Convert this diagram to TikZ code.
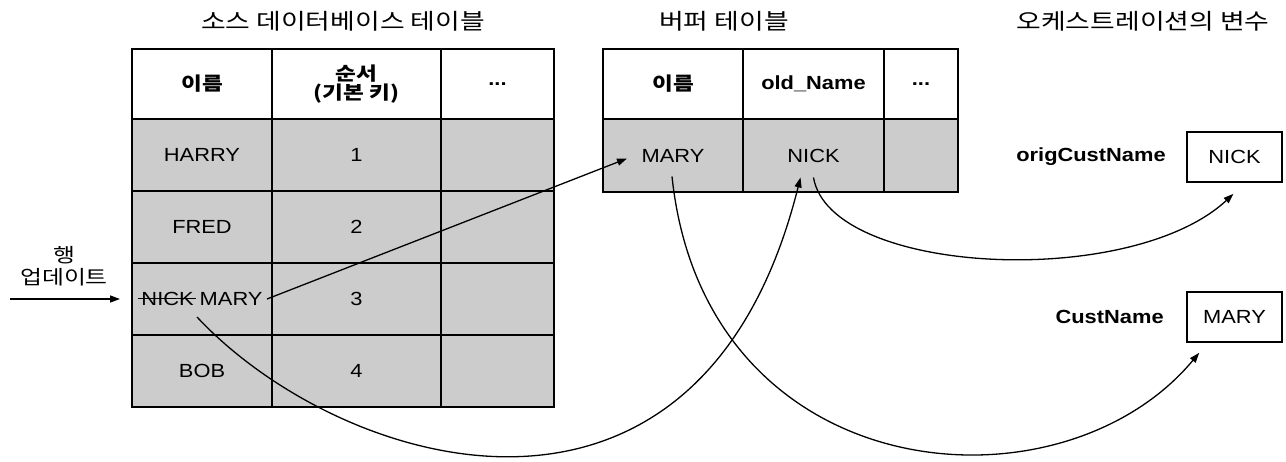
\documentclass[tikz,border=0pt]{standalone}
\usepackage{fontspec}
\setmainfont{Liberation Sans}[FakeStretch=1.15]
\newfontfamily\kr{Noto Sans CJK KR}[FakeStretch=1.22]
\usetikzlibrary{arrows.meta,positioning}
\definecolor{rowgray}{RGB}{204,204,204}
\newcommand{\strikeword}[1]{\setbox0\hbox{#1}\rlap{\kern-3pt\rule[0.34em]{\dimexpr\wd0+5pt\relax}{1.2pt}}\box0\relax}

\begin{document}
\begin{tikzpicture}[x=1pt, y=1pt,
  node distance=0pt and 0pt,
  cell/.style={draw, line width=1.6pt, fill=rowgray, minimum height=72pt,
               inner sep=0pt, outer sep=0pt, align=center, font=\fontsize{19}{22}\selectfont},
  headcell/.style={cell, fill=white, minimum height=70pt, font=\bfseries\fontsize{19}{22}\selectfont},
  krcell/.style={headcell, font=\kr\bfseries\fontsize{18.5}{19.5}\selectfont},
  title/.style={font=\kr\fontsize{22}{26}\selectfont},
  varbox/.style={draw, line width=1.6pt, fill=white, minimum width=95pt, minimum height=50pt,
                 inner sep=0pt, font=\fontsize{19}{22}\selectfont},
  varname/.style={font=\bfseries\fontsize{19}{22}\selectfont},
  arrow/.style={-{Triangle[length=10pt,width=7pt]}, line width=1.3pt}
]
\useasboundingbox (0,0) rectangle (1286,-462);

% titles
\node[title] (srctitle) at (343,-21) {소스 데이터베이스 테이블};
\node[title] (buftitle) at (724,-21) {버퍼 테이블};
\node[title] (vartitle) at (1143,-21) {오케스트레이션의 변수};

% source table
\node[krcell, minimum width=140pt, anchor=north west] (sname) at (132,-49) {이름};
\node[krcell, minimum width=169pt, right=of sname] (skey) {순서\\(기본 키)};
\node[headcell, minimum width=113pt, right=of skey] (smore) {...};
\node[cell, minimum width=140pt, below=of sname] (sname1) {HARRY};
\node[cell, minimum width=169pt, below=of skey] (skey1) {1};
\node[cell, minimum width=113pt, below=of smore] (smore1) {};
\node[cell, minimum width=140pt, below=of sname1] (sname2) {FRED};
\node[cell, minimum width=169pt, below=of skey1] (skey2) {2};
\node[cell, minimum width=113pt, below=of smore1] (smore2) {};
\node[cell, minimum width=140pt, below=of sname2] (sname3) {\strikeword{NICK} MARY};
\node[cell, minimum width=169pt, below=of skey2] (skey3) {3};
\node[cell, minimum width=113pt, below=of smore2] (smore3) {};
\node[cell, minimum width=140pt, below=of sname3] (sname4) {BOB};
\node[cell, minimum width=169pt, below=of skey3] (skey4) {4};
\node[cell, minimum width=113pt, below=of smore3] (smore4) {};

% buffer table
\node[krcell, minimum width=140pt, anchor=north west] (bname) at (603,-49) {이름};
\node[headcell, minimum width=141pt, right=of bname] (bold) {old\_Name};
\node[headcell, minimum width=74pt, right=of bold] (bmore) {...};
\node[cell, minimum width=140pt, minimum height=73pt, below=of bname] (bname1) {MARY};
\node[cell, minimum width=141pt, minimum height=73pt, below=of bold] (bold1) {NICK};
\node[cell, minimum width=74pt, minimum height=73pt, below=of bmore] (bmore1) {};

% variables
\node[varbox] (vnick) at (1234.5,-157) {NICK};
\node[varname, left=17pt of vnick] (vnicklbl) {origCustName};
\node[varbox] (vmary) at (1234.5,-317) {MARY};
\node[varname, left=19pt of vmary] (vmarylbl) {CustName};

% row update
\node[font=\kr\fontsize{19.5}{22}\selectfont, align=center] (rowupd) at (64,-266) {행\\업데이트};
\coordinate (updfeed) at (10,-299);
\draw[arrow] (updfeed) -- ([xshift=-12pt]sname3.west);

\draw[arrow] ([xshift=-5pt]sname3.east) -- ([shift={(24,-3)}]bname1.west);
\draw[arrow] ([shift={(-5,-18)}]sname3.center) .. controls (340,-470) and (700,-580) .. ([shift={(-13,-22)}]bold1.center);
\draw[arrow] ([shift={(-1,-21)}]bname1.center) .. controls (705,-490) and (1060,-520) .. ([shift={(13,-10)}]vmary.south west);
\draw[arrow] ([shift={(0,-22)}]bold1.center) .. controls (830,-275) and (1130,-290) .. ([shift={(-1,-11)}]vnick.south);
\end{tikzpicture}
\end{document}
